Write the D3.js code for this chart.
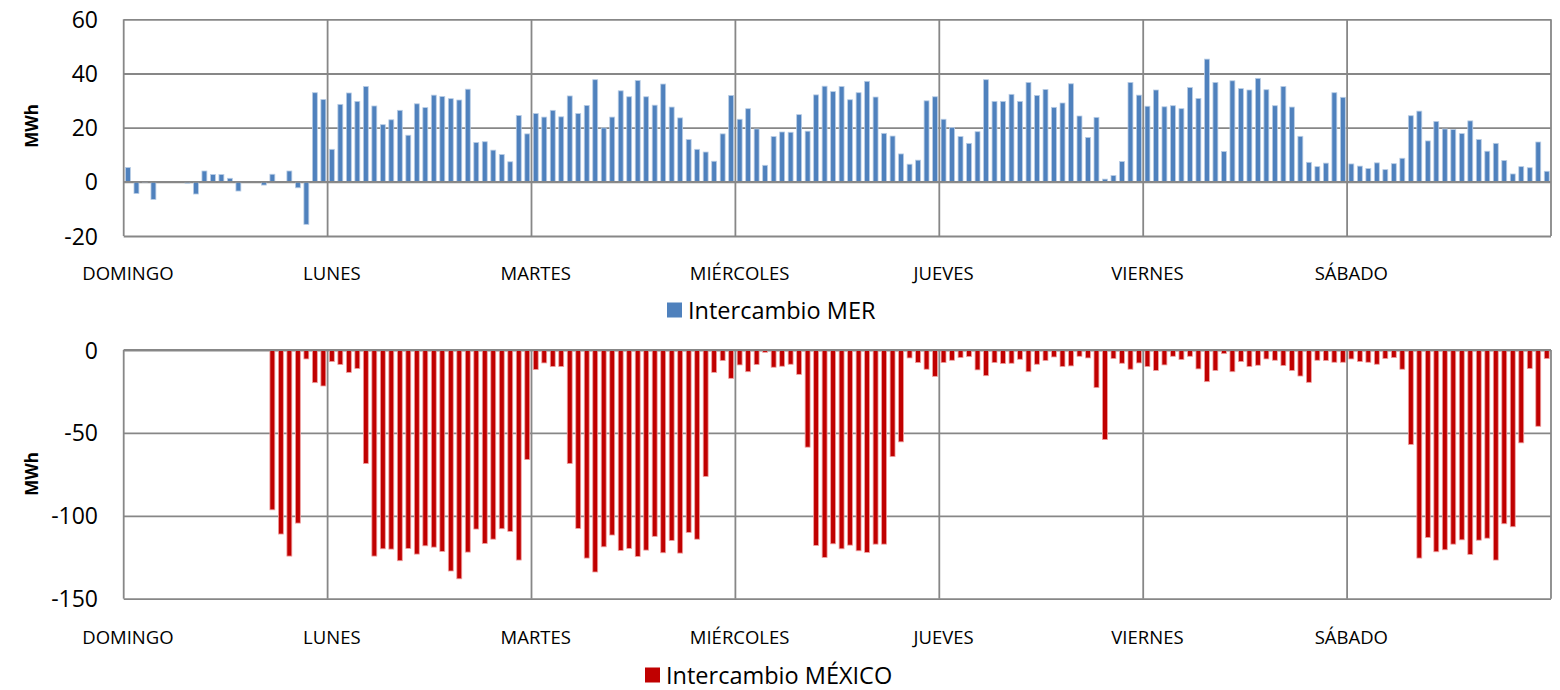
<!DOCTYPE html>
<html>
<head>
<meta charset="utf-8">
<script src="https://cdn.jsdelivr.net/npm/d3@7"></script>
<style>
  html, body { margin: 0; padding: 0; background: #fff; }
  svg { display: block; font-family: "Open Sans", "Noto Sans", sans-serif; }
</style>
</head>
<body>
<svg id="chart" width="1560" height="690"></svg>
<script>
// ---------------- DATA ----------------
const days = ["DOMINGO", "LUNES", "MARTES", "MIÉRCOLES", "JUEVES", "VIERNES", "SÁBADO"];
const hoursPerDay = 24;

// Intercambio MER (MWh), hourly, Sunday..Saturday
const merValues = [
  5.3, -4.3, -0.3, -6.5, 0, 0, 0, -0.5, -4.5, 4.0, 2.7, 2.7, 1.3, -3.4, 0, 0, -1.2, 2.8, 0, 4.0, -2.2, -15.7, 32.9, 30.4,
  12.0, 28.6, 32.8, 29.7, 35.2, 28.0, 21.1, 22.9, 26.4, 17.2, 28.8, 27.4, 32.0, 31.5, 30.7, 30.2, 34.2, 14.5, 14.8, 11.7, 10.1, 7.4, 24.5, 17.7,
  25.2, 23.9, 26.4, 24.0, 31.7, 25.2, 28.2, 37.7, 19.9, 23.9, 33.6, 31.4, 37.4, 31.4, 28.3, 36.1, 27.6, 23.6, 15.6, 12.0, 11.0, 7.6, 17.7, 31.9,
  23.1, 27.0, 19.5, 6.1, 16.7, 18.4, 18.3, 24.8, 18.7, 32.1, 35.3, 33.3, 35.2, 30.3, 32.9, 37.1, 31.3, 17.9, 16.9, 10.3, 6.5, 8.0, 29.9, 31.4,
  23.1, 20.0, 16.7, 14.2, 18.5, 37.7, 29.7, 29.7, 32.3, 29.7, 36.7, 31.9, 34.1, 27.5, 29.1, 36.2, 24.3, 16.4, 23.8, 1.0, 2.3, 7.5, 36.7, 32.0,
  27.9, 33.9, 27.7, 28.1, 27.0, 34.8, 30.8, 45.3, 36.7, 11.2, 37.3, 34.4, 33.9, 38.2, 34.0, 28.1, 35.2, 27.6, 16.8, 7.2, 5.6, 6.9, 32.9, 31.2,
  6.6, 5.8, 4.9, 7.0, 4.5, 6.7, 8.7, 24.4, 26.1, 15.1, 22.3, 19.5, 19.3, 17.8, 22.5, 15.6, 11.3, 14.2, 7.9, 2.9, 5.6, 5.2, 14.7, 3.9
];

// Intercambio MÉXICO (MWh), hourly, Sunday..Saturday
const mexValues = [
  0, 0, 0, 0, 0, 0, 0, 0, 0, 0, 0, 0, 0, 0, 0, 0, 0, -96.4, -111.0, -124.3, -104.4, -5.4, -19.7, -21.7,
  -7.0, -8.8, -13.5, -11.2, -68.5, -124.3, -119.9, -120.1, -127.1, -119.7, -123.1, -118.1, -118.9, -121.5, -133.3, -138.0, -121.9, -108.0, -116.7, -114.1, -107.8, -109.4, -126.7, -66.1,
  -11.8, -7.8, -10.0, -10.0, -68.5, -107.6, -125.5, -133.9, -118.7, -111.6, -120.9, -119.7, -124.5, -120.7, -112.4, -122.3, -114.9, -122.5, -110.0, -114.1, -76.3, -13.5, -6.4, -17.1,
  -9.0, -13.1, -8.8, -1.4, -10.4, -9.8, -8.6, -14.7, -58.6, -117.9, -125.1, -116.9, -119.9, -117.7, -121.1, -122.1, -117.1, -117.1, -64.3, -55.4, -4.8, -7.6, -11.6, -15.9,
  -7.6, -6.2, -4.6, -4.0, -12.0, -15.5, -7.6, -8.2, -8.0, -5.6, -13.1, -8.6, -6.4, -4.2, -10.0, -9.6, -3.8, -4.8, -22.7, -54.0, -5.2, -8.0, -11.6, -7.8,
  -10.0, -12.4, -9.0, -3.8, -5.8, -3.8, -11.4, -19.1, -12.4, -2.2, -13.1, -7.0, -10.0, -9.2, -5.4, -6.2, -9.4, -12.4, -15.7, -19.5, -6.2, -6.4, -7.4, -7.4,
  -5.4, -7.0, -7.4, -8.6, -5.2, -4.6, -11.6, -57.0, -125.5, -113.1, -121.7, -120.5, -117.1, -114.5, -123.3, -114.7, -113.5, -126.7, -104.8, -106.6, -56.0, -11.2, -46.0, -5.2
];

const merTicks = [-20, 0, 20, 40, 60];
const mexTicks = [-150, -100, -50, 0];
const merLabel = "Intercambio MER";
const mexLabel = "Intercambio MÉXICO";
const unitLabel = "MWh";

// ---------------- CHART ----------------
const svg = d3.select("#chart");
const gridColor = "#878787";
const gridWidth = 1.8;
const left = 123.7, right = 1551;

const x = d3.scaleBand()
  .domain(d3.range(merValues.length))
  .range([left, right])
  .paddingInner(0.42)
  .paddingOuter(0.21);

function panel(opts) {
  const { values, ticks, top, bottom, color, edge, label, legendY, legendX, unitY, dayLabelY } = opts;
  const y = d3.scaleLinear().domain(d3.extent(ticks)).range([bottom, top]);
  const g = svg.append("g");

  // horizontal gridlines
  const grid = g.append("g")
    .attr("transform", `translate(${left},0)`)
    .call(d3.axisLeft(y).tickValues(ticks).tickSize(-(right - left)).tickFormat(""));
  grid.select(".domain").remove();
  grid.selectAll(".tick line").attr("stroke", gridColor).attr("stroke-width", gridWidth);

  // vertical day lines + borders
  const half = (x.step() - x.bandwidth()) / 2;
  const dayStarts = d3.range(days.length).map(d => x(d * hoursPerDay) - half);
  dayStarts.push(right);
  g.append("g").selectAll("line").data(dayStarts).join("line")
    .attr("x1", d => d).attr("x2", d => d)
    .attr("y1", top).attr("y2", bottom)
    .attr("stroke", gridColor).attr("stroke-width", gridWidth);

  // bars
  g.append("g").selectAll("rect").data(values).join("rect")
    .attr("x", (d, i) => x(i))
    .attr("width", x.bandwidth())
    .attr("y", d => y(Math.max(0, d)))
    .attr("height", d => Math.abs(y(d) - y(0)))
    .attr("fill", color)
    .attr("stroke", edge)
    .attr("stroke-width", 0.8);

  // zero line drawn over bars
  g.append("line").attr("x1", left).attr("x2", right).attr("y1", y(0)).attr("y2", y(0))
    .attr("stroke", gridColor).attr("stroke-width", gridWidth);

  // y tick labels (plain hyphen minus as in the reference)
  const ax = g.append("g")
    .attr("transform", `translate(98,0)`)
    .call(d3.axisLeft(y).tickValues(ticks).tickSize(0).tickPadding(0).tickFormat(d => String(d)));
  ax.select(".domain").remove();
  ax.selectAll("text")
    .attr("font-family", "'Open Sans', sans-serif")
    .attr("font-size", 23)
    .attr("fill", "#000")
    .attr("dy", "0.35em");

  // unit label
  g.append("text")
    .attr("transform", `translate(38,${unitY}) rotate(-90)`)
    .attr("text-anchor", "middle")
    .attr("font-size", 17)
    .attr("font-weight", "bold")
    .text(unitLabel);

  // day labels
  g.append("g").selectAll("text").data(days).join("text")
    .attr("x", (d, i) => x(i * hoursPerDay) + x.bandwidth() / 2)
    .attr("y", dayLabelY)
    .attr("text-anchor", "middle")
    .attr("dominant-baseline", "central")
    .attr("font-size", 18.5)
    .attr("fill", "#000")
    .text(d => d);

  // legend
  g.append("rect").attr("x", legendX).attr("y", legendY - 7.5).attr("width", 15).attr("height", 15).attr("fill", color);
  g.append("text")
    .attr("x", legendX + 21)
    .attr("y", legendY)
    .attr("dominant-baseline", "central")
    .attr("font-size", 23.5)
    .attr("fill", "#000")
    .text(label);
}

panel({
  values: merValues, ticks: merTicks, top: 19.3, bottom: 236,
  color: "#4F81BD", edge: "#B9CDE5", label: merLabel,
  legendX: 667, legendY: 310, unitY: 126, dayLabelY: 272
});

panel({
  values: mexValues, ticks: mexTicks, top: 350, bottom: 598.7,
  color: "#C00000", edge: "#F0A0A0", label: mexLabel,
  legendX: 645, legendY: 675, unitY: 474, dayLabelY: 636
});
</script>
</body>
</html>
